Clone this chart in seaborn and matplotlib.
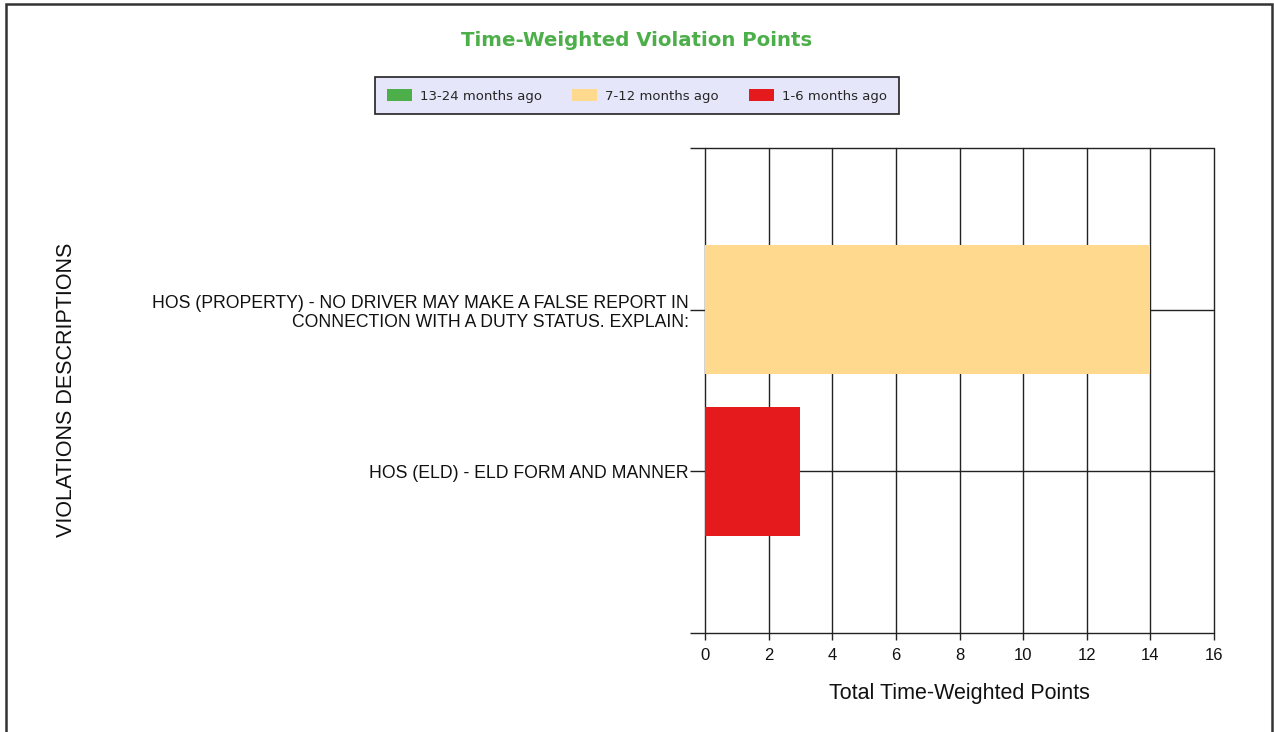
import pandas as pd
import matplotlib.pyplot as plt
import seaborn as sns
from matplotlib.patches import Rectangle, Patch

# Data
violations = [
    "HOS (PROPERTY) - NO DRIVER MAY MAKE A FALSE REPORT IN\nCONNECTION WITH A DUTY STATUS. EXPLAIN:",
    "HOS (ELD) - ELD FORM AND MANNER",
]
pts_13_24 = [0, 0]
pts_7_12 = [14, 0]
pts_1_6 = [0, 3]
series_names = ["13-24 months ago", "7-12 months ago", "1-6 months ago"]
series_colors = ["#4DAF4A", "#FED98E", "#E41A1C"]
x_ticks = [0, 2, 4, 6, 8, 10, 12, 14, 16]

df = pd.DataFrame({
    "violation": violations,
    "a": pts_13_24,
    "b": pts_7_12,
    "c": pts_1_6,
})
# cumulative totals so the stacked segments can be drawn back to front
df["cum_a"] = df["a"]
df["cum_b"] = df["cum_a"] + df["b"]
df["cum_c"] = df["cum_b"] + df["c"]

sns.set_style("white")
plt.rcParams["font.family"] = ["Liberation Sans", "DejaVu Sans"]
txt_color = "#111111"

fig = plt.figure(figsize=(12.74, 7.32), dpi=100)
ax = fig.add_axes([0.5534, 0.1352, 0.3995, 0.6626])

for col, color in zip(["cum_c", "cum_b", "cum_a"], series_colors[::-1]):
    sns.barplot(data=df, y="violation", x=col, orient="h", color=color,
                width=0.8, saturation=1, ax=ax, linewidth=0, zorder=3)

ax.set_xlim(0, 16)
ax.set_ylim(2, -1)
ax.set_xticks(x_ticks)
ax.set_xticklabels([str(t) for t in x_ticks], fontsize=12, color=txt_color)
ax.set_yticks([-1, 0, 1, 2])
ax.set_yticklabels([""] + violations + [""], fontsize=12.7, color=txt_color,
                   linespacing=1.15)
ax.tick_params(axis="y", left=True, length=10.5, width=1, color="#222222", pad=1.2)
ax.tick_params(axis="x", bottom=True, length=5, width=1, color="#222222", pad=6)
ax.grid(True, color="#222222", linewidth=1, zorder=1)
ax.set_axisbelow(True)
for line in ax.get_xgridlines() + ax.get_ygridlines():
    line.set_clip_on(False)
for s in ax.spines.values():
    s.set_visible(False)

ax.set_xlabel("Total Time-Weighted Points", fontsize=15.5, labelpad=14, color=txt_color)
ax.set_ylabel("")
fig.text(0.052, 0.468, "VIOLATIONS DESCRIPTIONS", rotation=90, fontsize=15.5,
         ha="center", va="center", color=txt_color)

fig.text(0.5, 0.945, "Time-Weighted Violation Points", ha="center", va="center",
         fontsize=14.2, fontweight="bold", color="#4DAF4A", family="DejaVu Sans")

handles = [Patch(facecolor=c, edgecolor="none") for c in series_colors]
leg = fig.legend(handles, series_names, loc="center", bbox_to_anchor=(0.5, 0.869),
                 ncol=3, frameon=True, fancybox=False,
                 prop={"family": "DejaVu Sans", "size": 9.5},
                 handlelength=1.9, handleheight=1.0, columnspacing=2.3,
                 borderpad=0.9, handletextpad=0.6)
leg.get_frame().set_facecolor("#E6E6FA")
leg.get_frame().set_edgecolor("#222222")
leg.get_frame().set_linewidth(1.2)
leg.get_frame().set_alpha(1)

# outer border of the page
fig.patches.append(Rectangle((0.0047, -0.05), 0.9937, 1.0445, transform=fig.transFigure,
                             fill=False, edgecolor="#333333", linewidth=1.8))

fig.savefig("out.png", dpi=100)
